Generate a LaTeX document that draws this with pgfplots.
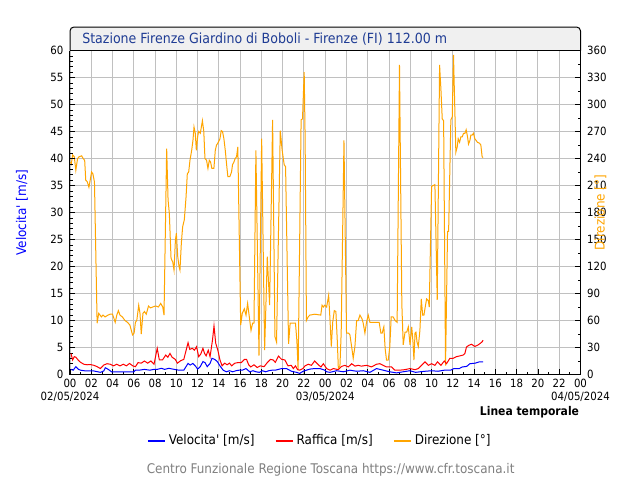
\documentclass[border=0pt]{standalone}
\usepackage{fontspec}
\setmainfont{DejaVu Sans Condensed}
\usepackage{pgfplots}
\pgfplotsset{compat=1.18}
\definecolor{dirorange}{HTML}{FFA500}
\definecolor{gridgray}{HTML}{C0C0C0}
\definecolor{titleblue}{HTML}{1F3C94}
\definecolor{titlebg}{HTML}{F0F0F0}
\definecolor{footgray}{HTML}{808080}
\newcommand{\tickfont}{\fontsize{8.5}{9.8}\selectfont}
\newcommand{\labfont}{\fontsize{10}{11}\selectfont}
\begin{document}
\begin{tikzpicture}
\useasboundingbox (0,0) rectangle (480pt,360pt);
\fill[white] (0,0) rectangle (480pt,360pt);
% title box
\draw[fill=titlebg, draw=black, line width=0.75pt, rounded corners=3pt]
  (52.5pt,322.1pt) -- (52.5pt,339.75pt) -- (435.4pt,339.75pt) -- (435.4pt,322.1pt);
\node[anchor=west, text=titleblue, font=\fontsize{10.5}{12}\selectfont, inner sep=0pt]
  at (61.5pt,330.6pt) {Stazione Firenze Giardino di Boboli - Firenze (FI) 112.00 m};
% direction axis (right)
\begin{axis}[
  at={(52.5pt,79.125pt)}, anchor=south west,
  scale only axis, width=382.875pt, height=243pt,
  xmin=0, xmax=48, ymin=0, ymax=360,
  axis y line*=right,
  tick align=inside,
  xtick pos=bottom,
  xtick={0,2,...,48},
  xticklabels={{00\\02/05/2024},02,04,06,08,10,12,14,16,18,20,22,{00\\03/05/2024},02,04,06,08,10,12,14,16,18,20,22,{00\\04/05/2024}},
  xticklabel style={align=center, font=\tickfont},
  yticklabel style={font=\tickfont, xshift=1.5pt},
  minor x tick num=1,
  ytick={0,30,...,360},
  minor y tick num=1,
  major tick length=4pt, minor tick length=2.2pt,
  grid=major,
  major grid style={gridgray, line width=0.75pt},
  axis line style={line width=0.75pt},
  every tick/.style={black, line width=0.6pt},
  /pgf/number format/assume math mode=true,
  ylabel={Direzione [°]},
  ylabel style={text=dirorange, font=\labfont, at={(axis description cs:1.039,0.5)}, anchor=center},
]
\addplot[dirorange, line width=0.75pt] coordinates {
(0.05,236)(0.12,234)(0.25,244)(0.40,242)(0.55,227)(0.71,240)(0.86,242)(1.10,243)(1.23,240)(1.38,238)(1.48,216)(1.63,214)(1.78,208)(1.90,216)(2.03,225)(2.15,223)(2.30,214)(2.55,57)(2.70,68)(2.95,64)(3.10,66)(3.30,64)(3.57,66)(3.78,67)(4.00,67)(4.25,58)(4.40,66)(4.55,71)(4.70,66)(4.92,64)(5.17,60)(5.40,58)(5.63,55)(5.88,44)(6.03,46)(6.15,58)(6.28,60)(6.46,77)(6.58,68)(6.70,45)(6.86,68)(7.00,70)(7.17,67)(7.38,76)(7.57,74)(7.78,75)(8.00,76)(8.09,76)(8.31,75)(8.53,79)(8.72,75)(8.84,66)(9.09,251)(9.22,194)(9.34,179)(9.50,129)(9.66,125)(9.78,116)(9.91,149)(10.00,157)(10.13,131)(10.25,120)(10.34,116)(10.47,146)(10.59,164)(10.75,172)(10.91,197)(11.03,223)(11.16,225)(11.28,238)(11.44,249)(11.56,260)(11.66,275)(11.78,268)(11.88,249)(12.00,264)(12.09,270)(12.25,268)(12.45,282)(12.58,270)(12.69,240)(12.84,238)(12.97,229)(13.10,238)(13.22,236)(13.34,229)(13.53,229)(13.66,249)(13.78,255)(13.90,257)(14.10,262)(14.22,271)(14.34,270)(14.47,262)(14.60,249)(14.72,234)(14.84,220)(15.03,220)(15.19,225)(15.28,233)(15.41,236)(15.53,240)(15.66,242)(15.78,253)
(16.05,55)(16.20,68)(16.39,73)(16.55,66)(16.70,79)(16.86,64)(17.02,49)(17.17,57)(17.30,57)(17.48,249)(17.77,21)(18.02,262)(18.30,27)(18.55,131)(18.77,77)(19.05,283)(19.27,42)(19.42,36)(19.77,271)(19.95,249)(20.14,233)(20.27,231)(20.55,34)(20.70,57)(21.20,57)(21.33,38)(21.45,5)(21.73,283)(21.86,284)(22.02,336)(22.11,260)(22.23,60)(22.39,64)(22.55,66)(23.02,67)(23.58,66)(23.70,77)(23.83,75)(23.95,77)(24.13,75)(24.32,88)(24.45,60)(24.57,31)(24.70,58)(24.85,71)(25.00,70)(25.13,38)(25.23,7)(25.38,9)(25.50,47)(25.76,260)(26.00,46)(26.20,46)(26.32,44)(26.48,31)(26.63,18)(26.79,31)(26.95,60)(27.10,60)(27.26,66)(27.45,62)(27.57,57)(27.73,46)(27.88,58)(28.04,66)(28.20,58)(28.90,58)(29.07,58)(29.23,46)(29.35,46)(29.51,53)(29.63,29)(29.76,16)(29.92,16)(30.07,31)(30.20,64)(30.38,64)(30.57,60)(30.76,58)(30.98,344)(31.20,79)(31.33,33)(31.50,47)(31.66,47)(31.81,53)(31.97,33)(32.13,53)(32.25,36)(32.34,16)(32.44,46)(32.53,47)(32.63,36)(32.75,31)(32.90,49)(33.03,84)(33.16,66)(33.28,66)(33.40,75)(33.53,84)(33.69,82)(33.78,75)(34.00,209)(34.31,211)(34.53,83)(34.75,344)(34.88,316)(35.00,284)(35.13,282)(35.31,10)(35.50,159)(35.60,159)(35.81,283)(35.94,286)(36.06,355)(36.28,247)(36.41,253)(36.50,262)(36.63,258)(36.75,264)(36.88,264)(37.00,268)(37.13,268)(37.25,272)(37.38,264)(37.47,256)(37.60,260)(37.69,266)(37.81,266)(37.94,268)(38.06,262)(38.19,260)(38.31,258)(38.50,257)(38.63,255)(38.75,242)(38.84,241)
};
\end{axis}
% speed axis (left)
\begin{axis}[
  at={(52.5pt,79.125pt)}, anchor=south west,
  scale only axis, width=382.875pt, height=243pt,
  xmin=0, xmax=48, ymin=0, ymax=60,
  axis y line*=left, axis x line=none,
  tick align=inside,
  ytick={0,5,...,60},
  minor y tick num=4,
  major tick length=4pt, minor tick length=2.2pt,
  axis line style={line width=0.75pt},
  every tick/.style={black, line width=0.6pt},
  yticklabel style={font=\tickfont, xshift=-1.5pt},
  /pgf/number format/assume math mode=true,
  ylabel={Velocita\textquotesingle{} [m/s]},
  ylabel style={text=blue, font=\labfont, at={(axis description cs:-0.094,0.5)}, anchor=center},
  legend columns=3,
  legend style={at={(axis description cs:0.4897,-0.205)}, anchor=center, draw=none, fill=none, font=\labfont,
    /tikz/every even column/.append style={column sep=13pt}},
  legend image code/.code={\draw[#1, line width=1.6pt] (0pt,0pt) -- (13pt,0pt);},
]
\addplot[blue, line width=0.75pt] coordinates {
(0.09,0.95)(0.30,0.8)(0.55,1.45)(0.80,0.95)(1.00,0.8)(1.30,0.7)(1.80,0.65)(2.25,0.65)(2.86,0.4)(3.17,0.65)(3.32,1.25)(3.60,0.95)(3.90,0.5)(4.40,0.5)(5.00,0.5)(5.50,0.5)(6.00,0.5)(6.15,0.8)(6.50,0.8)(7.00,0.95)(7.50,0.8)(7.90,0.95)(8.20,0.95)(8.60,1.15)(8.90,0.95)(9.30,1.15)(9.80,0.95)(10.25,0.8)(10.70,0.8)(11.10,2.05)(11.30,1.75)(11.55,2.05)(11.80,1.55)(12.00,1.0)(12.25,1.45)(12.50,2.4)(12.70,2.2)(12.90,1.45)(13.17,2.05)(13.35,3.0)(13.60,2.8)(13.85,2.4)(14.10,1.6)(14.40,0.8)(14.70,0.5)(15.00,0.7)(15.30,0.5)(15.60,0.7)(15.90,0.8)(16.20,0.8)(16.55,1.1)(16.90,0.5)(17.20,0.7)(17.50,0.5)(17.80,0.4)(18.10,0.7)(18.40,0.5)(18.70,0.7)(19.00,0.8)(19.30,0.8)(19.60,0.95)(19.90,1.1)(20.36,1.1)(20.83,0.6)(21.30,0.4)(21.60,0.2)(21.92,0.6)(22.23,0.8)(22.55,1.0)(23.00,1.1)(23.50,1.1)(23.95,0.8)(24.13,0.5)(24.45,0.4)(25.07,0.7)(25.70,0.5)(26.32,0.8)(26.95,0.6)(27.57,0.7)(28.20,0.4)(28.82,1.1)(29.45,0.8)(30.07,0.5)(30.70,0.3)(31.32,0.5)(31.95,0.7)(32.50,0.4)(32.90,0.5)(33.40,0.6)(34.00,0.7)(34.60,0.6)(35.20,0.8)(35.80,0.8)(36.10,1.1)(36.60,1.1)(36.90,1.4)(37.30,1.5)(37.60,2.0)(38.10,2.1)(38.50,2.35)(38.84,2.35)
};
\addlegendentry{Velocita\textquotesingle{} [m/s]}
\addplot[red, line width=0.75pt] coordinates {
(0.09,3.9)(0.25,2.7)(0.40,3.3)(0.55,3.2)(0.80,2.6)(1.00,2.25)(1.30,1.9)(1.60,1.8)(1.90,1.85)(2.25,1.7)(2.55,1.45)(2.86,1.1)(3.17,1.75)(3.48,2.0)(3.78,1.9)(4.10,1.6)(4.40,1.9)(4.70,1.6)(5.00,1.9)(5.30,1.6)(5.60,2.05)(5.90,1.6)(6.15,1.45)(6.40,2.2)(6.70,2.1)(7.00,2.5)(7.30,2.1)(7.60,2.5)(7.90,1.9)(8.20,4.85)(8.40,2.7)(8.70,2.7)(9.00,3.6)(9.20,3.2)(9.40,3.9)(9.60,3.2)(9.90,2.8)(10.10,2.1)(10.40,2.55)(10.70,2.8)(11.10,5.9)(11.26,4.65)(11.50,4.85)(11.70,4.5)(11.90,5.15)(12.10,3.3)(12.30,3.8)(12.50,4.85)(12.65,3.9)(12.80,3.45)(13.00,4.5)(13.17,3.3)(13.40,6.4)(13.54,9.0)(13.70,5.8)(13.90,4.5)(14.10,2.7)(14.30,1.6)(14.55,2.1)(14.77,1.8)(15.00,2.1)(15.20,1.6)(15.50,2.1)(15.80,2.2)(16.10,2.2)(16.40,2.8)(16.60,2.8)(16.80,1.8)(17.00,1.4)(17.30,1.8)(17.60,1.3)(17.90,1.6)(18.25,1.45)(18.55,2.2)(18.85,2.8)(19.10,2.7)(19.30,2.25)(19.60,3.4)(19.90,2.8)(20.20,2.7)(20.50,1.6)(20.80,1.7)(21.00,1.1)(21.20,1.6)(21.40,0.9)(21.60,0.8)(21.90,1.1)(22.10,1.6)(22.40,1.9)(22.70,1.7)(23.00,2.5)(23.20,2.1)(23.40,1.7)(23.60,1.4)(23.82,2.0)(24.13,1.1)(24.45,0.8)(24.76,1.1)(25.23,0.9)(25.54,1.5)(25.85,1.7)(26.17,1.4)(26.48,2.0)(26.80,1.55)(27.10,1.7)(27.40,1.55)(27.90,1.7)(28.35,1.4)(28.82,1.9)(29.13,2.0)(29.45,1.7)(29.76,1.4)(30.23,1.4)(30.54,0.8)(31.00,0.8)(31.48,0.9)(31.97,1.1)(32.44,0.9)(32.75,1.1)(33.06,1.7)(33.38,2.35)(33.69,1.7)(34.00,2.0)(34.31,1.7)(34.56,2.35)(34.88,1.7)(35.19,2.5)(35.40,2.0)(35.72,3.0)(36.03,3.0)(36.34,3.3)(36.66,3.45)(36.97,3.6)(37.13,3.9)(37.28,5.1)(37.50,5.4)(37.75,5.6)(38.06,5.2)(38.31,5.4)(38.53,5.7)(38.75,6.05)(38.84,6.35)
};
\addlegendentry{Raffica [m/s]}
\addlegendimage{dirorange}
\addlegendentry{Direzione [°]}
\end{axis}
\node[anchor=east, font=\fontsize{9}{10}\selectfont\bfseries, inner sep=0pt] at (434.5pt,51pt) {Linea temporale};
\node[text=footgray, font=\fontsize{10}{11}\selectfont, inner sep=0pt] at (248pt,7.8pt) {Centro Funzionale Regione Toscana https://www.cfr.toscana.it};
\end{tikzpicture}
\end{document}
